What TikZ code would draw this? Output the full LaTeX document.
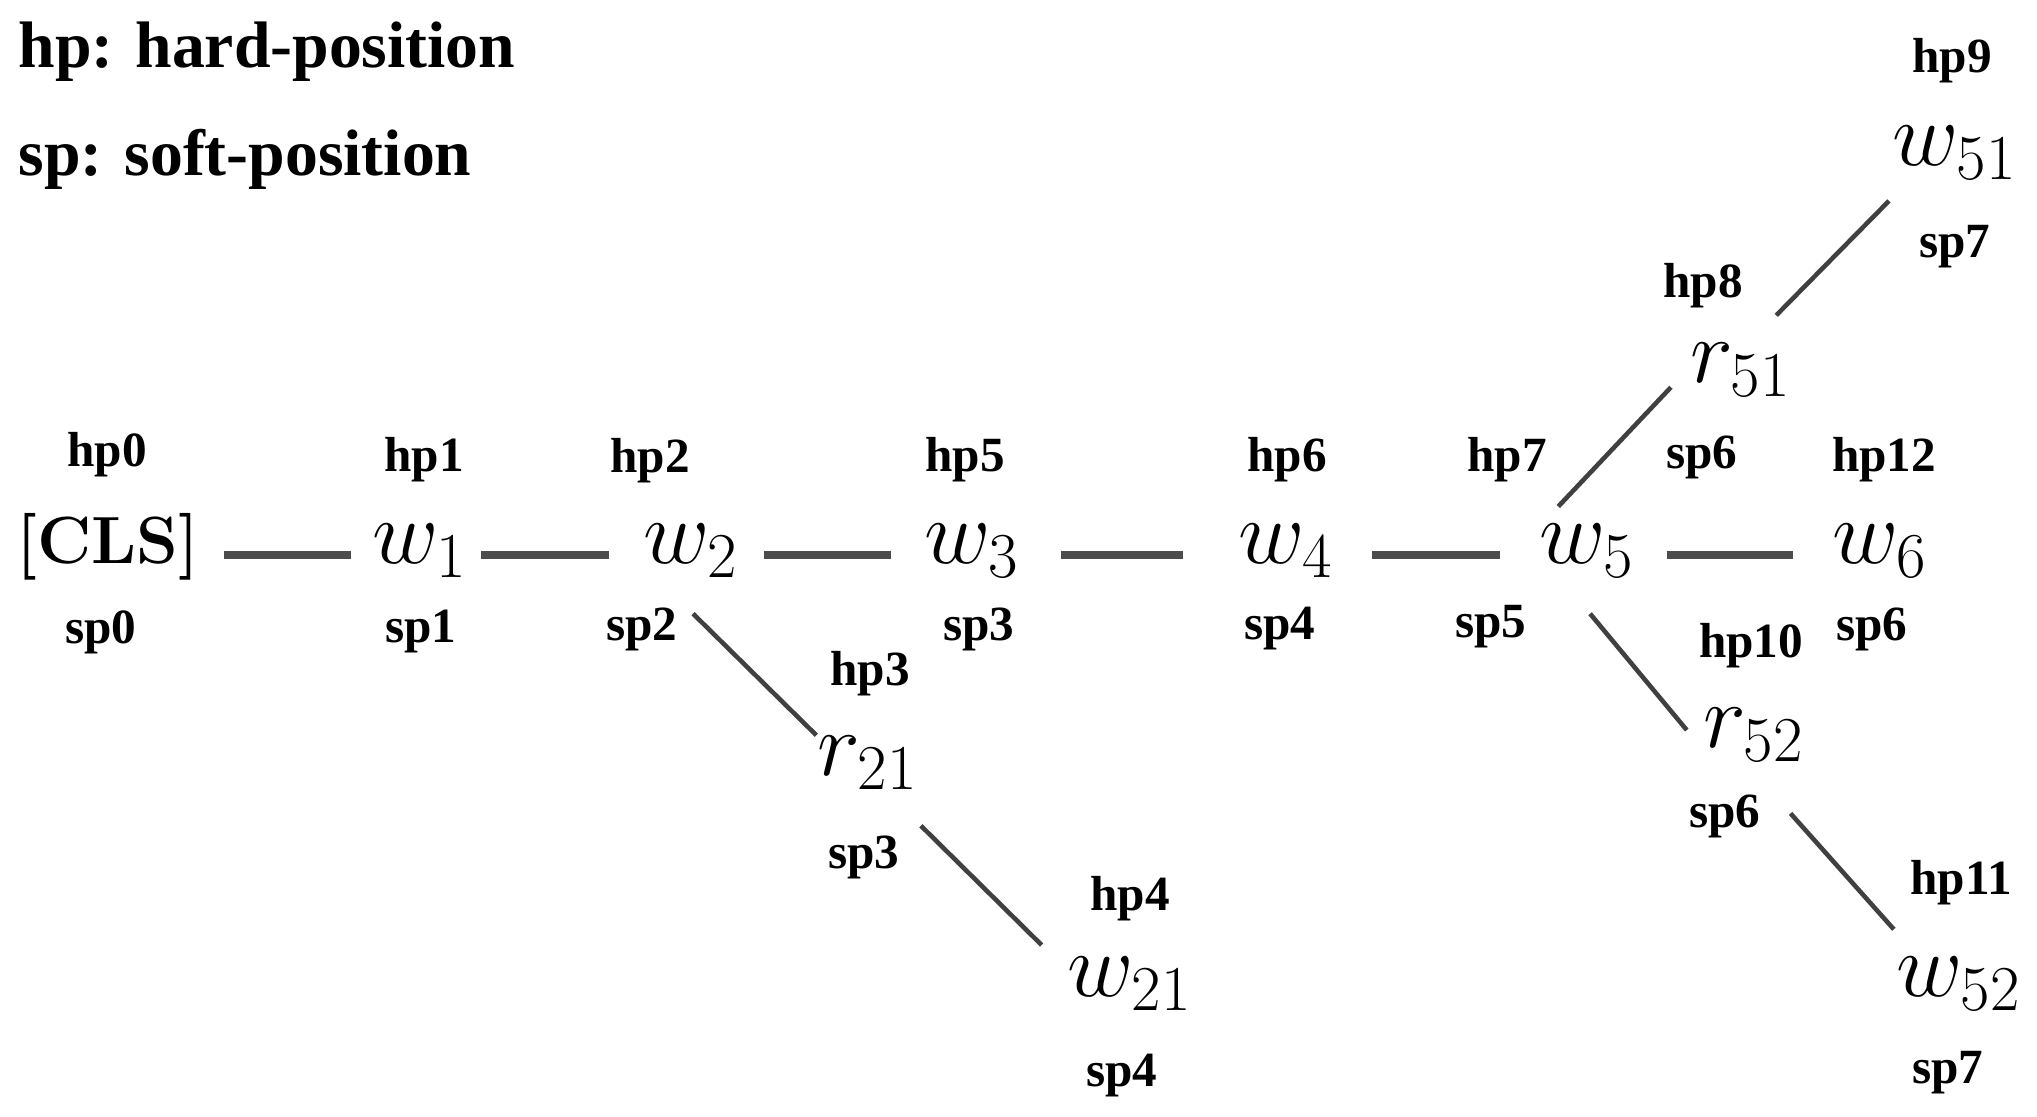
\RequirePackage{fix-cm}
\documentclass[tikz,border=0pt]{standalone}
\usepackage[no-math]{fontspec}
\setmainfont{Liberation Serif}

\begin{document}
\begin{tikzpicture}
		\tikzstyle{tok}=[font=\fontsize{26}{30}\selectfont, inner sep=3pt, text height=16pt, text depth=11pt];
		\tikzstyle{idx}=[font=\fontsize{14}{16}\selectfont\bfseries, inner sep=0pt];
		\tikzstyle{key}=[font=\fontsize{18.7}{21}\selectfont\bfseries, inner sep=0pt, anchor=west];
		\tikzstyle{chain}=[line width=2.3pt, black!70];
		\tikzstyle{branch}=[line width=1.3pt, black!75];
		\useasboundingbox (0,0) rectangle (20.37,11.17);
		\node[key] (hpkey) at (0.18,10.65) {hp: hard-position};
		\node[key] (spkey) at (0.18,9.58) {sp: soft-position};
		% tokens
		\node[tok, font=\fontsize{19}{23}\selectfont] (cls) at (1.08,5.62) {$\mathbf{\mathchar"705B CLS\mathchar"705D}$};
		\node[tok] (w1) at (4.20,5.62) {$w_1$};
		\node[tok] (w2) at (6.91,5.62) {$w_2$};
		\node[tok] (w3) at (9.72,5.62) {$w_3$};
		\node[tok] (w4) at (12.86,5.62) {$w_4$};
		\node[tok] (w5) at (15.87,5.62) {$w_5$};
		\node[tok] (w6) at (18.80,5.62) {$w_6$};
		\node[tok] (r21) at (8.68,3.50) {$r_{21}$};
		\node[tok] (w21) at (11.30,1.29) {$w_{21}$};
		\node[tok] (r51) at (17.41,7.43) {$r_{51}$};
		\node[tok] (w51) at (19.55,9.60) {$w_{51}$};
		\node[tok] (r52) at (17.54,3.78) {$r_{52}$};
		\node[tok] (w52) at (19.59,1.29) {$w_{52}$};
		% hard positions
		\node[idx] (clshp) at (1.07,6.62) {hp0};
		\node[idx] (w1hp) at (4.24,6.57) {hp1};
		\node[idx] (w2hp) at (6.50,6.56) {hp2};
		\node[idx] (r21hp) at (8.70,4.43) {hp3};
		\node[idx] (w21hp) at (11.30,2.18) {hp4};
		\node[idx] (w3hp) at (9.65,6.57) {hp5};
		\node[idx] (w4hp) at (12.87,6.57) {hp6};
		\node[idx] (w5hp) at (15.07,6.57) {hp7};
		\node[idx] (r51hp) at (17.03,8.31) {hp8};
		\node[idx] (w51hp) at (19.52,10.56) {hp9};
		\node[idx] (r52hp) at (17.51,4.71) {hp10};
		\node[idx] (w52hp) at (19.61,2.34) {hp11};
		\node[idx] (w6hp) at (18.84,6.57) {hp12};
		% soft positions
		\node[idx] (clssp) at (1.01,4.85) {sp0};
		\node[idx] (w1sp) at (4.21,4.85) {sp1};
		\node[idx] (w2sp) at (6.42,4.88) {sp2};
		\node[idx] (w3sp) at (9.79,4.88) {sp3};
		\node[idx] (w4sp) at (12.80,4.88) {sp4};
		\node[idx] (w5sp) at (14.91,4.90) {sp5};
		\node[idx] (w6sp) at (18.72,4.88) {sp6};
		\node[idx] (r21sp) at (8.64,2.60) {sp3};
		\node[idx] (w21sp) at (11.22,0.41) {sp4};
		\node[idx] (r51sp) at (17.02,6.60) {sp6};
		\node[idx] (w51sp) at (19.55,8.70) {sp7};
		\node[idx] (r52sp) at (17.25,3.01) {sp6};
		\node[idx] (w52sp) at (19.48,0.44) {sp7};
		% main chain
		\draw[chain, shorten <=3.9pt, shorten >=3pt] (cls) -- (w1);
		\draw[chain, shorten <=0.7pt, shorten >=6.7pt] (w1) -- (w2);
		\draw[chain, shorten <=4pt, shorten >=6.3pt] (w2) -- (w3);
		\draw[chain, shorten <=8.5pt, shorten >=12.6pt] (w3) -- (w4);
		\draw[chain, shorten <=7.8pt, shorten >=8.1pt] (w4) -- (w5);
		\draw[chain, shorten <=5.9pt, shorten >=8.1pt] (w5) -- (w6);
		% branches
		\draw[branch, shorten >=-4pt] (w2.272) -- (r21.146);
		\draw[branch, shorten >=6pt] (r21.312) -- (w21.159);
		\draw[branch, shorten <=-4pt, shorten >=3.5pt] (w5.108) -- (r51.184);
		\draw[branch, shorten >=-3pt] (r51.59) -- (w51.215);
		\draw[branch, shorten >=2.5pt] (w5.273) -- (r52.178);
		\draw[branch, shorten <=6pt] (r52.291) -- (w52.138);
	\end{tikzpicture}
\end{document}
